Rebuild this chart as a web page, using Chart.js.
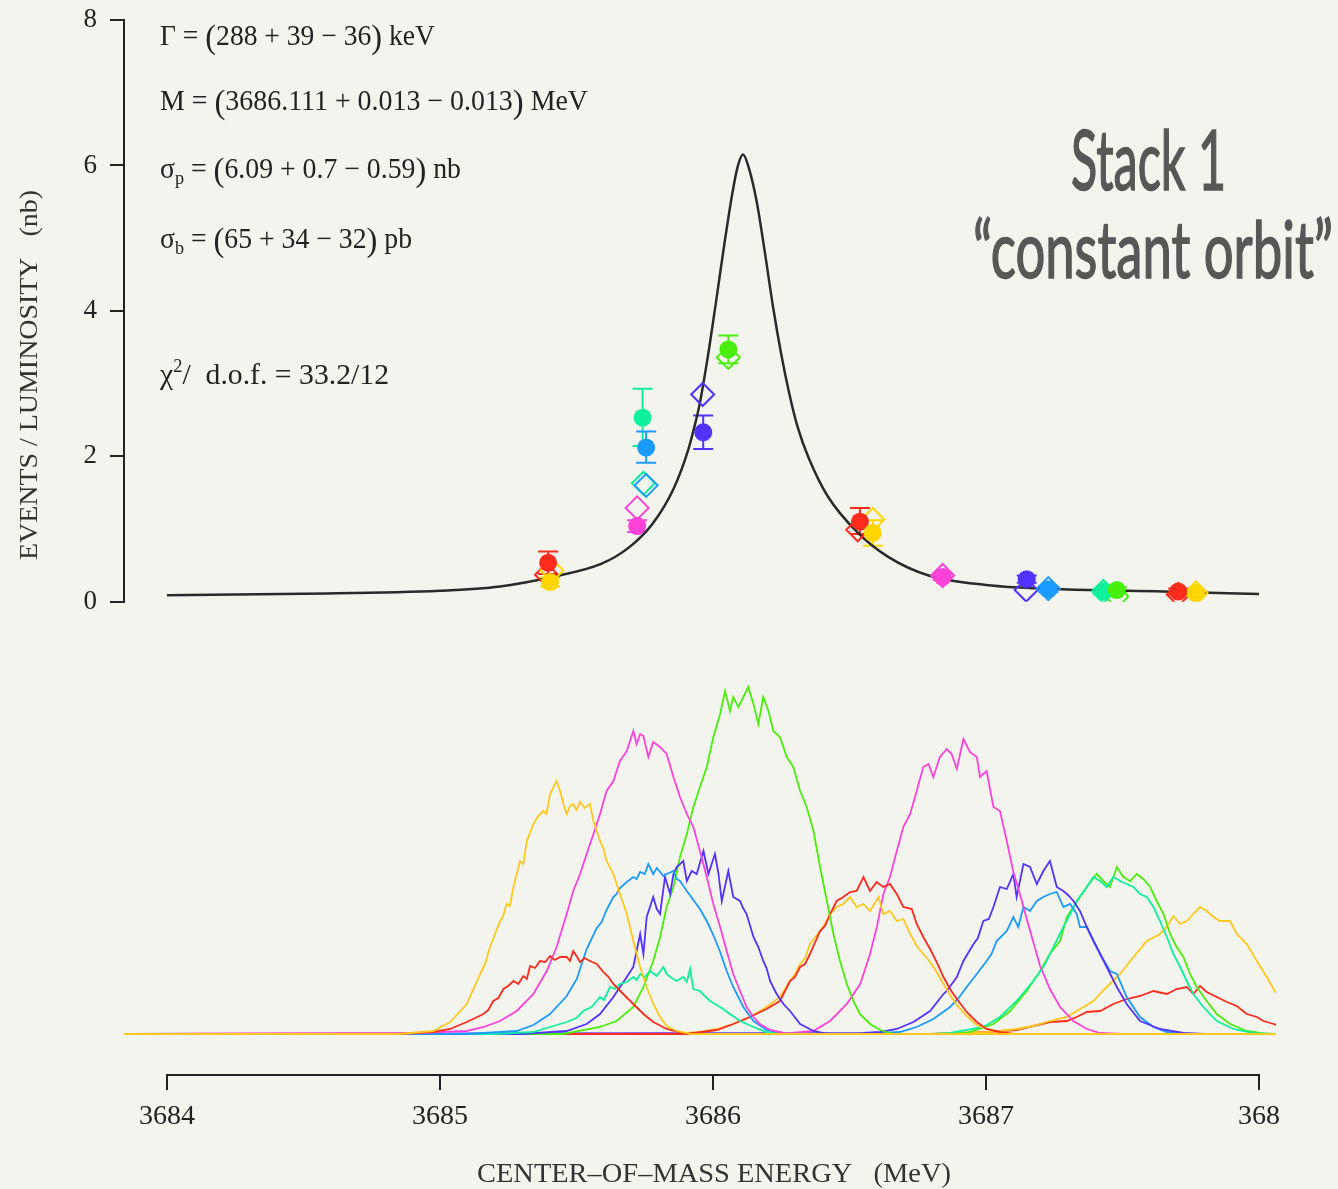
<!DOCTYPE html>
<html>
<head>
<meta charset="utf-8">
<title>Stack 1 scan</title>
<script src="https://cdn.jsdelivr.net/npm/chart.js@4.4.0/dist/chart.umd.min.js"></script>
<style>
  html, body { margin: 0; padding: 0; background: #f4f4ef; }
</style>
</head>
<body>
<canvas id="scan-graph" width="1338" height="1189"></canvas>
<script>
// --- axis ticks ---
const xTickValues = [3684, 3685, 3686, 3687, 3688];
const xTickLabels = ['3684', '3685', '3686', '3687', '368'];

// --- fitted resonance curve (MeV, nb) ---
const fitEnergy = [3684.00, 3684.50, 3685.00, 3685.22, 3685.41, 3685.59, 3685.69, 3685.78, 3685.855, 3685.91,
    3685.93, 3685.95, 3685.98, 3686.01, 3686.04, 3686.07, 3686.09, 3686.11, 3686.13, 3686.16,
    3686.19, 3686.22, 3686.25, 3686.28, 3686.31, 3686.35, 3686.42, 3686.53, 3686.64, 3686.79,
    3687.00, 3687.28, 3687.65, 3688.00];
const fitValue = [0.09, 0.11, 0.15, 0.21, 0.34, 0.52, 0.74, 1.08, 1.55, 2.10,
    2.38, 2.70, 3.35, 4.10, 4.88, 5.60, 5.98, 6.15, 5.98, 5.50,
    4.80, 4.05, 3.40, 2.85, 2.40, 1.98, 1.45, 0.95, 0.62, 0.36,
    0.23, 0.17, 0.14, 0.105];

// --- palette ---
const RED = '#ff2b1c', YELLOW = '#ffd600', GREEN = '#4aee0c', SPRING = '#0ef09a',
      AZURE = '#1b9bff', VIOLET = '#5232ff', MAGENTA = '#ff42d8', GOLD = '#ffc81e';

// --- measured points with error bars (filled circles) ---
const filledEnergy = [3685.396, 3685.403, 3685.722, 3685.742, 3685.755, 3685.964, 3686.056, 3686.538,
    3686.585, 3686.841, 3687.149, 3687.228, 3687.430, 3687.479, 3687.704, 3687.769];
const filledValue = [0.535, 0.27, 1.04, 2.53, 2.12, 2.33, 3.47, 1.10, 0.945, 0.34, 0.31, 0.17, 0.14, 0.16, 0.14, 0.12];
const filledLow = [0.38, 0.21, 0.96, 2.14, 1.91, 2.10, 3.28, 0.93, 0.77, 0.30, 0.26, 0.13, 0.10, 0.12, 0.10, 0.08];
const filledHigh = [0.69, 0.33, 1.12, 2.93, 2.34, 2.56, 3.66, 1.29, 1.12, 0.38, 0.36, 0.21, 0.18, 0.20, 0.18, 0.16];
const filledColor = [RED, YELLOW, MAGENTA, SPRING, AZURE, VIOLET, GREEN, RED,
    YELLOW, MAGENTA, VIOLET, AZURE, SPRING, GREEN, RED, YELLOW];

// --- second set of points (open diamonds) ---
const openEnergy = [3685.39, 3685.41, 3685.722, 3685.745, 3685.755, 3685.962, 3686.056, 3686.53,
    3686.585, 3686.841, 3687.147, 3687.228, 3687.43, 3687.479, 3687.704, 3687.769];
const openValue = [0.37, 0.43, 1.29, 1.63, 1.60, 2.85, 3.36, 0.99, 1.13, 0.36, 0.16, 0.18, 0.14, 0.07, 0.10, 0.12];
const openColor = [RED, YELLOW, MAGENTA, SPRING, AZURE, VIOLET, GREEN, RED,
    YELLOW, MAGENTA, VIOLET, AZURE, SPRING, GREEN, RED, YELLOW];

// --- beam energy spectra, [MeV, counts] ---
const yellow1 = [[3683.84, 0], [3684.85, 0], [3684.976, 3], [3685.037, 12], [3685.098, 30], [3685.147, 60], [3685.165, 70],
    [3685.183, 87], [3685.220, 113], [3685.232, 118], [3685.244, 130], [3685.256, 128], [3685.269, 147], [3685.293, 173],
    [3685.305, 170], [3685.318, 193], [3685.342, 210], [3685.360, 218], [3685.378, 223], [3685.390, 220], [3685.403, 240],
    [3685.427, 253], [3685.440, 243], [3685.452, 230], [3685.464, 220], [3685.476, 228], [3685.488, 230], [3685.500, 224],
    [3685.513, 232], [3685.530, 226], [3685.549, 230], [3685.562, 213], [3685.586, 193], [3685.598, 186], [3685.610, 173],
    [3685.635, 160], [3685.659, 140], [3685.684, 120], [3685.708, 93], [3685.733, 67], [3685.757, 47], [3685.781, 30],
    [3685.806, 17], [3685.830, 8], [3685.867, 3], [3685.92, 0], [3688.07, 0]];
const red1 = [[3683.84, 0], [3684.85, 0], [3684.976, 2], [3685.037, 5], [3685.098, 12], [3685.159, 20], [3685.177, 24],
    [3685.195, 33], [3685.214, 36], [3685.232, 45], [3685.250, 48], [3685.269, 53], [3685.287, 50], [3685.305, 58],
    [3685.318, 55], [3685.330, 68], [3685.348, 66], [3685.366, 73], [3685.385, 72], [3685.403, 78], [3685.420, 74],
    [3685.440, 77], [3685.464, 77], [3685.476, 73], [3685.488, 83], [3685.500, 78], [3685.513, 72], [3685.530, 76],
    [3685.549, 73], [3685.574, 70], [3685.598, 62], [3685.617, 57], [3685.635, 50], [3685.671, 40], [3685.708, 30],
    [3685.745, 20], [3685.781, 12], [3685.830, 5], [3685.891, 1], [3685.95, 0], [3688.07, 0]];
const magenta1 = [[3683.84, 0], [3684.90, 1], [3685.098, 3], [3685.160, 7], [3685.220, 13], [3685.281, 23], [3685.342, 40],
    [3685.391, 63], [3685.427, 87], [3685.464, 120], [3685.488, 143], [3685.513, 160], [3685.537, 180], [3685.562, 200],
    [3685.586, 220], [3685.610, 243], [3685.635, 253], [3685.659, 273], [3685.684, 283], [3685.708, 303], [3685.720, 290],
    [3685.733, 300], [3685.745, 298], [3685.763, 277], [3685.781, 292], [3685.806, 287], [3685.830, 280], [3685.855, 257],
    [3685.879, 237], [3685.904, 220], [3685.928, 207], [3685.952, 183], [3685.977, 157], [3686.001, 130], [3686.026, 107],
    [3686.050, 83], [3686.074, 60], [3686.099, 43], [3686.123, 27], [3686.148, 17], [3686.172, 10], [3686.209, 4],
    [3686.258, 1], [3686.35, 0], [3688.07, 0]];
const azure1 = [[3683.84, 0], [3685.10, 0], [3685.281, 3], [3685.342, 9], [3685.403, 20], [3685.464, 38], [3685.501, 55],
    [3685.537, 85], [3685.555, 95], [3685.574, 106], [3685.592, 112], [3685.610, 124], [3685.635, 137], [3685.647, 140],
    [3685.659, 146], [3685.684, 152], [3685.708, 157], [3685.720, 155], [3685.733, 162], [3685.750, 160], [3685.763, 170],
    [3685.781, 160], [3685.794, 166], [3685.806, 162], [3685.818, 158], [3685.830, 160], [3685.855, 163], [3685.867, 155],
    [3685.879, 153], [3685.904, 143], [3685.928, 134], [3685.952, 125], [3685.977, 113], [3686.001, 99], [3686.026, 82],
    [3686.050, 63], [3686.074, 47], [3686.111, 27], [3686.148, 13], [3686.196, 4], [3686.258, 1], [3686.35, 0], [3688.07, 0]];
const spring1 = [[3683.84, 0], [3685.20, 0], [3685.342, 2], [3685.403, 7], [3685.464, 12], [3685.500, 16], [3685.525, 23],
    [3685.555, 27], [3685.586, 37], [3685.600, 34], [3685.623, 47], [3685.640, 45], [3685.659, 50], [3685.684, 52],
    [3685.708, 57], [3685.720, 54], [3685.733, 60], [3685.750, 57], [3685.769, 63], [3685.794, 58], [3685.818, 67],
    [3685.830, 60], [3685.843, 57], [3685.867, 53], [3685.891, 57], [3685.904, 52], [3685.916, 65], [3685.928, 45],
    [3685.952, 43], [3685.970, 38], [3685.989, 33], [3686.026, 27], [3686.062, 20], [3686.099, 13], [3686.148, 7],
    [3686.196, 2], [3686.30, 0], [3688.07, 0]];
const violet1 = [[3683.84, 0], [3685.30, 0], [3685.464, 3], [3685.537, 10], [3685.586, 20], [3685.635, 37], [3685.684, 57],
    [3685.708, 67], [3685.720, 83], [3685.733, 100], [3685.745, 80], [3685.757, 117], [3685.781, 137], [3685.794, 125],
    [3685.806, 120], [3685.824, 157], [3685.843, 140], [3685.855, 160], [3685.867, 167], [3685.891, 173], [3685.904, 153],
    [3685.922, 163], [3685.940, 160], [3685.965, 183], [3685.983, 160], [3686.007, 180], [3686.020, 160], [3686.032, 133],
    [3686.056, 163], [3686.074, 137], [3686.099, 133], [3686.110, 126], [3686.123, 120], [3686.148, 97], [3686.166, 87],
    [3686.184, 73], [3686.196, 66], [3686.209, 53], [3686.233, 40], [3686.258, 30], [3686.282, 23], [3686.319, 10],
    [3686.368, 3], [3686.417, 0], [3688.07, 0]];
const green1 = [[3683.84, 0], [3685.45, 0], [3685.586, 7], [3685.647, 13], [3685.708, 27], [3685.745, 47], [3685.781, 73],
    [3685.806, 97], [3685.830, 127], [3685.855, 147], [3685.879, 177], [3685.904, 200], [3685.928, 227], [3685.952, 247],
    [3685.977, 267], [3686.001, 297], [3686.026, 320], [3686.044, 343], [3686.062, 323], [3686.074, 337], [3686.093, 327],
    [3686.111, 337], [3686.129, 347], [3686.148, 330], [3686.166, 310], [3686.184, 337], [3686.203, 323], [3686.221, 303],
    [3686.245, 297], [3686.270, 277], [3686.294, 267], [3686.319, 243], [3686.343, 227], [3686.368, 203], [3686.392, 167],
    [3686.417, 133], [3686.441, 100], [3686.465, 73], [3686.490, 50], [3686.514, 33], [3686.538, 20], [3686.575, 10],
    [3686.612, 4], [3686.661, 0], [3688.07, 0]];
const red2 = [[3683.84, 0], [3685.90, 0], [3686.014, 4], [3686.074, 10], [3686.135, 17], [3686.196, 25], [3686.245, 33],
    [3686.282, 53], [3686.300, 57], [3686.319, 67], [3686.337, 70], [3686.355, 80], [3686.392, 103], [3686.410, 108],
    [3686.429, 120], [3686.453, 133], [3686.477, 137], [3686.502, 142], [3686.526, 143], [3686.551, 157], [3686.575, 143],
    [3686.599, 152], [3686.624, 147], [3686.648, 150], [3686.673, 140], [3686.697, 127], [3686.728, 125], [3686.746, 110],
    [3686.770, 97], [3686.795, 85], [3686.819, 72], [3686.844, 57], [3686.868, 45], [3686.893, 35], [3686.929, 22],
    [3686.966, 12], [3687.002, 5], [3687.05, 2], [3687.10, 0], [3688.07, 0]];
const yellow2 = [[3683.84, 0], [3685.85, 0], [3685.952, 2], [3686.014, 5], [3686.074, 10], [3686.135, 17], [3686.196, 27],
    [3686.245, 37], [3686.282, 53], [3686.300, 60], [3686.319, 70], [3686.337, 76], [3686.355, 90], [3686.392, 103],
    [3686.410, 110], [3686.429, 120], [3686.453, 127], [3686.477, 130], [3686.502, 137], [3686.526, 127], [3686.551, 130],
    [3686.575, 123], [3686.606, 137], [3686.624, 120], [3686.648, 123], [3686.673, 113], [3686.697, 115], [3686.722, 100],
    [3686.746, 88], [3686.770, 80], [3686.795, 72], [3686.819, 62], [3686.844, 50], [3686.868, 39], [3686.893, 29],
    [3686.929, 18], [3686.966, 9], [3687.002, 5], [3687.051, 2], [3687.10, 0], [3688.07, 0]];
const magenta2 = [[3683.84, 0], [3686.25, 0], [3686.367, 3], [3686.429, 13], [3686.490, 30], [3686.539, 50], [3686.575, 80],
    [3686.600, 107], [3686.624, 140], [3686.648, 157], [3686.673, 183], [3686.697, 207], [3686.722, 220], [3686.746, 243],
    [3686.770, 267], [3686.789, 270], [3686.807, 257], [3686.831, 277], [3686.856, 285], [3686.874, 280], [3686.893, 265],
    [3686.917, 295], [3686.941, 282], [3686.966, 277], [3686.978, 257], [3687.002, 263], [3687.027, 227], [3687.051, 223],
    [3687.076, 193], [3687.100, 162], [3687.124, 140], [3687.149, 115], [3687.173, 92], [3687.198, 68], [3687.234, 45],
    [3687.271, 27], [3687.320, 13], [3687.369, 5], [3687.418, 1], [3687.50, 0], [3688.07, 0]];
const violet2 = [[3683.84, 0], [3686.55, 1], [3686.612, 2], [3686.673, 5], [3686.734, 12], [3686.795, 23], [3686.844, 40],
    [3686.856, 43], [3686.893, 57], [3686.917, 73], [3686.954, 90], [3686.970, 96], [3686.990, 113], [3687.010, 115],
    [3687.027, 127], [3687.051, 147], [3687.076, 145], [3687.100, 160], [3687.112, 137], [3687.137, 170], [3687.161, 167],
    [3687.186, 150], [3687.210, 163], [3687.234, 173], [3687.259, 147], [3687.283, 143], [3687.300, 139], [3687.320, 133],
    [3687.344, 123], [3687.369, 107], [3687.405, 87], [3687.442, 67], [3687.479, 47], [3687.515, 30], [3687.564, 13],
    [3687.637, 5], [3687.723, 1], [3687.80, 0], [3688.07, 0]];
const azure2 = [[3683.84, 0], [3686.55, 0], [3686.61, 1], [3686.685, 2], [3686.746, 7], [3686.807, 15], [3686.868, 27],
    [3686.900, 36], [3686.929, 47], [3686.966, 60], [3687.002, 73], [3687.020, 80], [3687.039, 93], [3687.076, 103],
    [3687.100, 117], [3687.118, 107], [3687.137, 127], [3687.161, 123], [3687.186, 133], [3687.210, 137], [3687.234, 140],
    [3687.259, 142], [3687.283, 127], [3687.308, 130], [3687.332, 120], [3687.344, 107], [3687.369, 107], [3687.393, 93],
    [3687.418, 80], [3687.454, 63], [3687.479, 60], [3687.515, 37], [3687.564, 17], [3687.613, 7], [3687.662, 2],
    [3687.75, 0], [3688.07, 0]];
const spring2 = [[3683.84, 0], [3686.80, 0], [3686.868, 1], [3686.990, 7], [3687.051, 17], [3687.112, 33], [3687.173, 53],
    [3687.210, 67], [3687.247, 87], [3687.283, 107], [3687.308, 120], [3687.332, 133], [3687.369, 147], [3687.393, 157],
    [3687.418, 153], [3687.442, 147], [3687.466, 157], [3687.491, 153], [3687.515, 150], [3687.540, 147], [3687.564, 140],
    [3687.589, 137], [3687.613, 127], [3687.637, 113], [3687.662, 97], [3687.686, 80], [3687.711, 67], [3687.735, 53],
    [3687.759, 40], [3687.796, 27], [3687.845, 13], [3687.906, 5], [3687.979, 1], [3688.07, 0]];
const green2 = [[3683.84, 0], [3686.85, 0], [3686.929, 1], [3687.027, 10], [3687.088, 23], [3687.149, 43], [3687.198, 63],
    [3687.234, 80], [3687.271, 93], [3687.296, 117], [3687.320, 127], [3687.344, 137], [3687.369, 147], [3687.405, 160],
    [3687.430, 153], [3687.454, 147], [3687.479, 167], [3687.503, 157], [3687.528, 153], [3687.552, 160], [3687.576, 155],
    [3687.601, 147], [3687.625, 133], [3687.650, 120], [3687.674, 100], [3687.698, 87], [3687.723, 77], [3687.747, 60],
    [3687.772, 47], [3687.808, 33], [3687.845, 20], [3687.894, 10], [3687.955, 3], [3688.028, 0], [3688.07, 0]];
const yellow3 = [[3683.84, 0], [3686.80, 0], [3687.00, 2], [3687.051, 3], [3687.112, 5], [3687.173, 8], [3687.234, 13],
    [3687.296, 17], [3687.357, 27], [3687.393, 33], [3687.442, 47], [3687.491, 60], [3687.540, 77], [3687.589, 93],
    [3687.637, 100], [3687.662, 107], [3687.686, 118], [3687.711, 110], [3687.735, 113], [3687.759, 120], [3687.784, 127],
    [3687.808, 123], [3687.833, 117], [3687.857, 113], [3687.894, 113], [3687.918, 100], [3687.955, 90], [3687.992, 73],
    [3688.028, 57], [3688.053, 45], [3688.10, 25]];
const red3 = [[3683.84, 0], [3686.80, 0], [3687.00, 2], [3687.112, 4], [3687.173, 8], [3687.234, 12], [3687.296, 13],
    [3687.332, 17], [3687.369, 22], [3687.418, 23], [3687.466, 30], [3687.515, 35], [3687.564, 38], [3687.613, 43],
    [3687.662, 40], [3687.698, 45], [3687.735, 47], [3687.759, 40], [3687.784, 48], [3687.808, 42], [3687.845, 37],
    [3687.882, 32], [3687.918, 28], [3687.955, 20], [3687.992, 17], [3688.016, 13], [3688.053, 10], [3688.10, 6]];

const spectra = [
    [yellow1, GOLD], [red1, RED], [magenta1, MAGENTA], [azure1, AZURE], [spring1, SPRING], [violet1, VIOLET],
    [green1, GREEN], [red2, RED], [yellow2, GOLD], [magenta2, MAGENTA], [violet2, VIOLET], [azure2, AZURE],
    [spring2, SPRING], [green2, GREEN], [yellow3, GOLD], [red3, RED]
];

const SERIF = '"Liberation Serif", "DejaVu Serif", serif';
const SANS = 'Lato, "Open Sans", sans-serif';
const INK = '#222';

const toPoints = (xs, ys) => xs.map((x, i) => ({x: x, y: ys[i]}));

// draws a row of text pieces [text, size, rise] squeezed to a given width
const drawRuns = (ctx, runs, x, baseline, width, family, outline) => {
    let total = 0;
    runs.forEach(r => {
        ctx.font = `${r[1]}px ${family}`;
        total += ctx.measureText(r[0]).width;
    });
    ctx.save();
    ctx.translate(x, baseline);
    ctx.scale(width / total, 1);
    let cx = 0;
    runs.forEach(r => {
        ctx.font = `${r[1]}px ${family}`;
        ctx.fillText(r[0], cx, -(r[2] || 0));
        if (outline) {
            ctx.lineWidth = outline;
            ctx.strokeText(r[0], cx, -(r[2] || 0));
        }
        cx += ctx.measureText(r[0]).width;
    });
    ctx.restore();
};

const fitText = [
    {x: 160, y: 45, w: 275, runs: [['Γ = ', 29], ['(', 34, -3], ['288 + 39 − 36', 29], [')', 34, -3], [' keV', 29]]},
    {x: 160, y: 110, w: 428, runs: [['M = ', 29], ['(', 34, -3], ['3686.111 + 0.013 − 0.013', 29], [')', 34, -3], [' MeV', 29]]},
    {x: 160, y: 178, w: 301, runs: [['σ', 29], ['p', 19, -6], [' = ', 29], ['(', 34, -3], ['6.09 + 0.7 − 0.59', 29], [')', 34, -3], [' nb', 29]]},
    {x: 160, y: 248, w: 252, runs: [['σ', 29], ['b', 19, -6], [' = ', 29], ['(', 34, -3], ['65 + 34 − 32', 29], [')', 34, -3], [' pb', 29]]},
    {x: 160, y: 384, w: 229, runs: [['χ', 29], ['2', 18, 12], ['/  d.o.f. = 33.2/12', 29]]}
];

const backdrop = {
    id: 'backdrop',
    beforeDraw(chart) {
        const ctx = chart.ctx;
        ctx.save();
        ctx.fillStyle = '#f4f4ef';
        ctx.fillRect(0, 0, chart.width, chart.height);
        ctx.restore();
    }
};

const errorBars = {
    id: 'errorBars',
    beforeDatasetsDraw(chart) {
        const {ctx, scales: {x, y}} = chart;
        ctx.save();
        ctx.lineWidth = 2;
        filledEnergy.forEach((e, i) => {
            const px = x.getPixelForValue(e);
            const lo = y.getPixelForValue(filledLow[i]);
            const hi = y.getPixelForValue(filledHigh[i]);
            ctx.strokeStyle = filledColor[i];
            ctx.beginPath();
            ctx.moveTo(px, lo); ctx.lineTo(px, hi);
            ctx.moveTo(px - 10, lo); ctx.lineTo(px + 10, lo);
            ctx.moveTo(px - 10, hi); ctx.lineTo(px + 10, hi);
            ctx.stroke();
        });
        ctx.restore();
    }
};

const annotations = {
    id: 'annotations',
    afterDraw(chart) {
        const ctx = chart.ctx;
        const xs = chart.scales.x;
        const bottom = chart.chartArea.bottom;

        // energy axis line, only between the first and last tick
        ctx.save();
        ctx.strokeStyle = INK;
        ctx.lineWidth = 2;
        ctx.beginPath();
        ctx.moveTo(xs.getPixelForValue(xTickValues[0]) - 1, bottom);
        ctx.lineTo(xs.getPixelForValue(xTickValues[xTickValues.length - 1]) + 1, bottom);
        ctx.stroke();

        ctx.fillStyle = INK;
        ctx.textBaseline = 'alphabetic';
        fitText.forEach(t => drawRuns(ctx, t.runs, t.x, t.y, t.w, SERIF));

        // axis titles
        ctx.fillStyle = '#333';
        drawRuns(ctx, [['CENTER–OF–MASS ENERGY   (MeV)', 27]], 477, 1182, 474, SERIF);
        ctx.save();
        ctx.translate(37, 560);
        ctx.rotate(-Math.PI / 2);
        drawRuns(ctx, [['EVENTS / LUMINOSITY   (nb)', 25]], 0, 0, 370, SERIF);
        ctx.restore();

        // stack label
        ctx.fillStyle = '#575757';
        ctx.strokeStyle = '#575757';
        drawRuns(ctx, [['Stack 1', 84]], 1071, 190, 155, SANS, 1.6);
        drawRuns(ctx, [['“constant orbit”', 80]], 973, 278, 360, SANS, 1.6);
        ctx.restore();
    }
};

const datasets = [
    {
        type: 'scatter',
        data: toPoints(filledEnergy, filledValue),
        yAxisID: 'y',
        pointStyle: 'circle',
        pointRadius: 9,
        pointBorderWidth: 0,
        pointBackgroundColor: filledColor,
        pointBorderColor: filledColor
    },
    {
        type: 'scatter',
        data: toPoints(openEnergy, openValue),
        yAxisID: 'y',
        pointStyle: 'rectRot',
        pointRadius: 11.5,
        pointBorderWidth: 2,
        pointBackgroundColor: 'rgba(0,0,0,0)',
        pointBorderColor: openColor
    },
    {
        type: 'line',
        data: toPoints(fitEnergy, fitValue),
        yAxisID: 'y',
        borderColor: '#2a2a2a',
        borderWidth: 2.5,
        pointRadius: 0,
        cubicInterpolationMode: 'monotone',
        fill: false
    }
];

spectra.forEach(([counts, color]) => {
    datasets.push({
        type: 'line',
        data: counts.map(c => ({x: c[0], y: c[1]})),
        yAxisID: 'ySpec',
        borderColor: color,
        borderWidth: 1.8,
        pointRadius: 0,
        tension: 0,
        fill: false
    });
});

const scanGraph = new Chart(document.getElementById('scan-graph'), {
    type: 'scatter',
    data: {datasets: datasets},
    options: {
        responsive: false,
        animation: false,
        devicePixelRatio: 1,
        events: [],
        layout: {padding: {left: 0, right: 62, top: 20, bottom: 0}},
        plugins: {legend: {display: false}, tooltip: {enabled: false}},
        scales: {
            x: {
                type: 'linear',
                position: 'bottom',
                min: 3683.8425,
                max: 3688.062,
                bounds: 'data',
                afterBuildTicks: scale => {
                    scale.ticks = xTickValues.map(v => ({value: v}));
                },
                afterFit: scale => { scale.height = 114; },
                border: {display: false},
                grid: {drawOnChartArea: false, drawTicks: true, tickLength: 15, color: INK, lineWidth: 2},
                ticks: {
                    autoSkip: false,
                    maxRotation: 0,
                    padding: 10,
                    color: INK,
                    font: {family: SERIF, size: 28},
                    callback: (value, index) => xTickLabels[index]
                }
            },
            ySpec: {
                type: 'linear',
                position: 'left',
                stack: 'panels',
                stackWeight: 473.3,
                min: -41,
                max: 432.3,
                display: false
            },
            y: {
                type: 'linear',
                position: 'left',
                stack: 'panels',
                stackWeight: 581.7,
                min: 0,
                max: 8,
                afterFit: scale => {
                    scale.width = 124;
                    scale.paddingTop = 0;
                    scale.paddingBottom = 0;
                },
                border: {display: true, color: INK, width: 2},
                grid: {drawOnChartArea: false, drawTicks: true, tickLength: 14, color: INK, lineWidth: 2},
                ticks: {
                    stepSize: 2,
                    padding: 13,
                    color: INK,
                    font: {family: SERIF, size: 27}
                }
            }
        }
    },
    plugins: [backdrop, errorBars, annotations]
});
</script>
</body>
</html>
